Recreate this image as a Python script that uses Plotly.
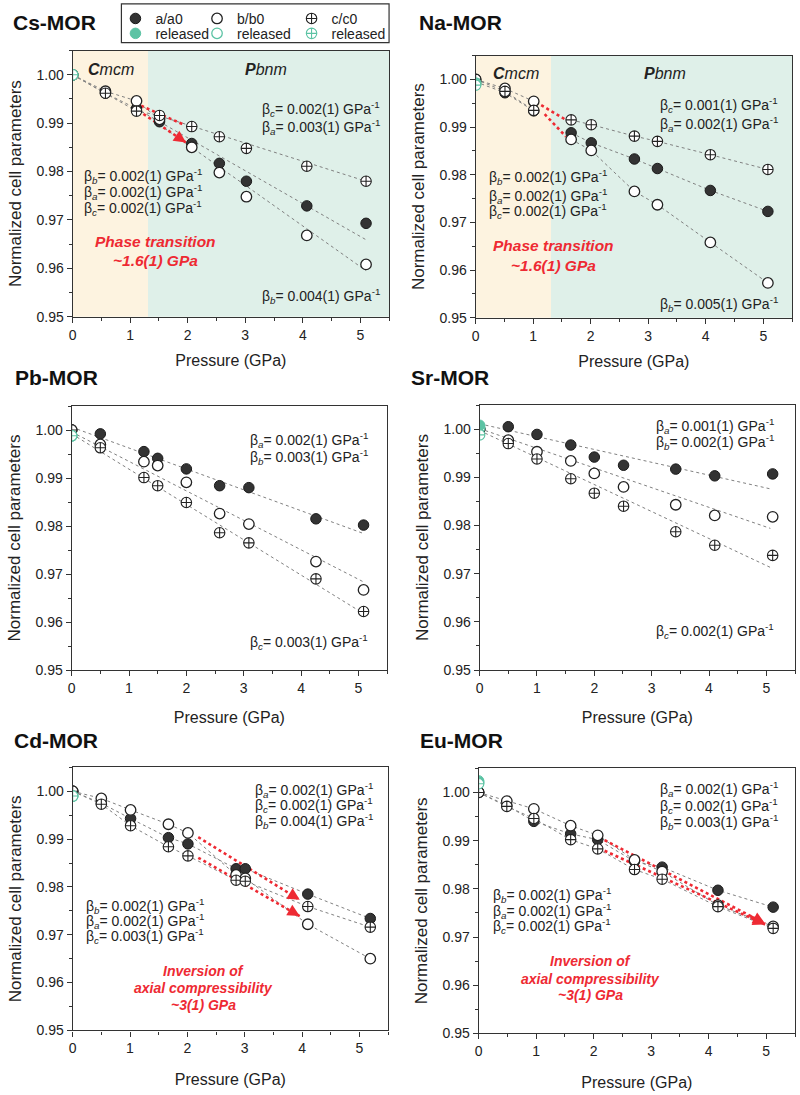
import plotly.graph_objects as go

W, H = 800, 1095

# ------------------------------------------------------------------ data
PANEL_NAMES = ["Cs-MOR", "Na-MOR", "Pb-MOR", "Sr-MOR", "Cd-MOR", "Eu-MOR"]

# Cs-MOR
CS_P = [0.0, 0.57, 1.11, 1.51, 2.07, 2.55, 3.02, 4.07, 5.10]
CS_A = [1.000, 0.9962, 0.9930, 0.9903, 0.9858, 0.9817, 0.9780, 0.9729, 0.9693]
CS_B = [1.000, 0.9966, 0.9946, 0.9908, 0.9850, 0.9798, 0.9748, 0.9668, 0.9608]
CS_C = [1.000, 0.9962, 0.9925, 0.9916, 0.9893, 0.9872, 0.9848, 0.9811, 0.9780]
CS_REL = [1.000, 1.000, 1.000]           # released a, b, c at 0 GPa
CS_FIT_P = [1.51, 5.10]                  # Pbnm linear fits
CS_FIT_A = [0.9903, 0.9659]
CS_FIT_B = [0.9897, 0.9595]
CS_FIT_C = [0.9915, 0.9780]

# Na-MOR
NA_P = [0.0, 0.51, 1.01, 1.66, 2.01, 2.76, 3.16, 4.08, 5.08]
NA_A = [0.9995, 0.9972, 0.9934, 0.9888, 0.9867, 0.9833, 0.9813, 0.9767, 0.9723]
NA_B = [1.000, 0.9981, 0.9954, 0.9874, 0.9851, 0.9765, 0.9737, 0.9658, 0.9573]
NA_C = [1.000, 0.9975, 0.9935, 0.9915, 0.9905, 0.9881, 0.9870, 0.9842, 0.9811]
NA_REL = [0.9990, 0.9992, 0.9988]

# Pb-MOR
PB_P = [0.0, 0.50, 1.26, 1.50, 2.00, 2.58, 3.09, 4.26, 5.09]
PB_A = [1.000, 0.9992, 0.9955, 0.9941, 0.9919, 0.9884, 0.9880, 0.9815, 0.9802]
PB_B = [1.000, 0.9970, 0.9934, 0.9926, 0.9891, 0.9826, 0.9804, 0.9726, 0.9667]
PB_C = [1.000, 0.9963, 0.9901, 0.9884, 0.9849, 0.9786, 0.9765, 0.9690, 0.9622]
PB_REL = [0.9988, 0.9988, 0.9988]
PB_FIT_P = [0.0, 5.10]
PB_FIT_A = [1.0006, 0.9784]
PB_FIT_B = [0.9996, 0.9683]
PB_FIT_C = [0.9992, 0.9617]

# Sr-MOR
SR_P = [0.0, 0.50, 1.00, 1.59, 2.00, 2.51, 3.42, 4.10, 5.11]
SR_A = [1.000, 1.0005, 0.9989, 0.9967, 0.9942, 0.9925, 0.9917, 0.9903, 0.9907]
SR_B = [1.000, 0.9977, 0.9953, 0.9934, 0.9908, 0.9880, 0.9843, 0.9821, 0.9818]
SR_C = [1.000, 0.9970, 0.9938, 0.9897, 0.9867, 0.9840, 0.9787, 0.9759, 0.9738]
SR_REL = [1.0008, 1.0003, 0.9988]
SR_FIT_P = [0.0, 5.07]
SR_FIT_A = [1.0011, 0.9876]
SR_FIT_B = [1.0001, 0.9794]
SR_FIT_C = [0.9997, 0.9713]

# Cd-MOR
CD_P = [0.0, 0.50, 1.01, 1.67, 2.01, 2.85, 3.01, 4.10, 5.19]
CD_A = [1.000, 0.9975, 0.9943, 0.9903, 0.9890, 0.9838, 0.9838, 0.9785, 0.9734]
CD_B = [1.000, 0.9985, 0.9961, 0.9931, 0.9913, 0.9825, 0.9818, 0.9722, 0.9650]
CD_C = [1.000, 0.9973, 0.9928, 0.9884, 0.9865, 0.9814, 0.9812, 0.9759, 0.9716]
CD_REL = [0.9990, 0.9990, 0.9990]

# Eu-MOR
EU_P = [0.0, 0.49, 0.96, 1.60, 2.07, 2.71, 3.19, 4.16, 5.12]
EU_A = [1.000, 0.9973, 0.9940, 0.9914, 0.9902, 0.9857, 0.9845, 0.9797, 0.9762]
EU_B = [1.000, 0.9982, 0.9966, 0.9931, 0.9911, 0.9860, 0.9836, 0.9766, 0.9722]
EU_C = [1.000, 0.9971, 0.9946, 0.9902, 0.9883, 0.9840, 0.9820, 0.9763, 0.9718]
EU_REL = [1.0024, 1.0021, 1.0018]

PHASE_BOUNDARY = 1.31   # Cmcm / Pbnm boundary (GPa)

# red dotted arrows: [x_start, x_end], [y_start, y_end]
CS_ARROWS = [([1.19, 1.95], [0.9936, 0.9896]), ([1.23, 1.97], [0.9919, 0.9860])]
NA_ARROWS = [([1.14, 1.57], [0.9946, 0.9915]), ([1.20, 1.57], [0.9927, 0.9880])]
CD_ARROWS = [([2.19, 3.96], [0.9904, 0.9773]), ([2.19, 3.96], [0.9861, 0.9739])]
EU_ARROWS = [([2.19, 4.98], [0.9901, 0.9728]), ([2.19, 4.98], [0.9879, 0.9726])]

X_TICKS = [0, 1, 2, 3, 4, 5]
Y_TICKS = [0.95, 0.96, 0.97, 0.98, 0.99, 1.00]

# ------------------------------------------------------------------ style
FONT = "Liberation Sans, Arial, sans-serif"
TEAL = "#5cc3a4"
LINE_GREY = "#808080"
RED = "#ee2a33"
CMCM_BG = "#fdf3e0"
PBNM_BG = "#dff0e9"

# panel boxes in pixels: left, right, top, bottom
BOXES = [(69, 387, 51, 319), (474, 792, 56, 320),
         (68, 385, 409, 675), (478, 795, 408, 675),
         (69, 386, 773, 1038), (477, 795, 774, 1041)]
X_TITLE_STANDOFF = [13, 13, 16, 16, 18, 18]

MK_A = dict(symbol="circle", size=10.5, color="#333333", line=dict(color="#1a1a1a", width=1))
MK_B = dict(symbol="circle", size=10.5, color="white", line=dict(color="#222222", width=1.3))
MK_C = dict(symbol="circle-cross", size=10.5, color="white", line=dict(color="#222222", width=1.1))
MK_RA = dict(symbol="circle", size=10.5, color=TEAL, line=dict(color=TEAL, width=1))
MK_RB = dict(symbol="circle", size=10.5, color="white", line=dict(color=TEAL, width=1.3))
MK_RC = dict(symbol="circle-cross", size=10.5, color="white", line=dict(color=TEAL, width=1.1))

fig = go.Figure()


def ax_ids(i):
    return ("x", "y") if i == 1 else (f"x{i}", f"y{i}")


def add_line(i, xs, ys):
    xr, yr = ax_ids(i)
    fig.add_trace(go.Scatter(x=xs, y=ys, mode="lines", xaxis=xr, yaxis=yr,
                             line=dict(color=LINE_GREY, width=1, dash="dot"),
                             showlegend=False, hoverinfo="skip"))


def add_arrows(i, arrows):
    xr, yr = ax_ids(i)
    for xs, ys in arrows:
        fig.add_trace(go.Scatter(x=xs, y=ys, mode="lines", xaxis=xr, yaxis=yr,
                                 line=dict(color=RED, width=2.6, dash="dot"),
                                 showlegend=False, hoverinfo="skip"))
        tx = xs[1] - 0.1 * (xs[1] - xs[0])
        ty = ys[1] - 0.1 * (ys[1] - ys[0])
        fig.add_annotation(x=xs[1], y=ys[1], ax=tx, ay=ty, xref=xr, yref=yr,
                           axref=xr, ayref=yr, text="", showarrow=True,
                           arrowhead=2, arrowsize=1.1, arrowwidth=2.2,
                           arrowcolor=RED, standoff=0)


def add_points(i, P, A, B, C, REL):
    xr, yr = ax_ids(i)
    first = i == 1
    specs = [(P, A, MK_A, "a/a0", "legend"), (P, B, MK_B, "b/b0", "legend2"),
             (P, C, MK_C, "c/c0", "legend3"),
             ([0.0], [REL[1]], MK_RB, "released", "legend5"),
             ([0.0], [REL[0]], MK_RA, "released", "legend4"),
             ([0.0], [REL[2]], MK_RC, "released", "legend6")]
    for xs, ys, mk, name, lg in specs:
        fig.add_trace(go.Scatter(x=xs, y=ys, mode="markers", xaxis=xr, yaxis=yr,
                                 marker=mk, name=name, showlegend=first,
                                 legend=lg))


# Cs
for ser in (CS_A, CS_B, CS_C):
    add_line(1, CS_P[:4], ser[:4])
for fit in (CS_FIT_A, CS_FIT_B, CS_FIT_C):
    add_line(1, CS_FIT_P, fit)
add_arrows(1, CS_ARROWS)
add_points(1, CS_P, CS_A, CS_B, CS_C, CS_REL)

# Na
for ser in (NA_A, NA_B, NA_C):
    add_line(2, NA_P[:3], ser[:3])
    add_line(2, NA_P[3:], ser[3:])
add_arrows(2, NA_ARROWS)
add_points(2, NA_P, NA_A, NA_B, NA_C, NA_REL)

# Pb
for fit in (PB_FIT_A, PB_FIT_B, PB_FIT_C):
    add_line(3, PB_FIT_P, fit)
add_points(3, PB_P, PB_A, PB_B, PB_C, PB_REL)

# Sr
for fit in (SR_FIT_A, SR_FIT_B, SR_FIT_C):
    add_line(4, SR_FIT_P, fit)
add_points(4, SR_P, SR_A, SR_B, SR_C, SR_REL)

# Cd
for ser in (CD_A, CD_B, CD_C):
    add_line(5, CD_P, ser)
add_arrows(5, CD_ARROWS)
add_points(5, CD_P, CD_A, CD_B, CD_C, CD_REL)

# Eu
for ser in (EU_A, EU_B, EU_C):
    add_line(6, EU_P, ser)
add_arrows(6, EU_ARROWS)
add_points(6, EU_P, EU_A, EU_B, EU_C, EU_REL)

# ------------------------------------------------------------------ axes
layout = dict(width=W, height=H, margin=dict(l=0, r=0, t=0, b=0),
              paper_bgcolor="white", plot_bgcolor="white",
              font=dict(family=FONT, color="#222222"))

for i, (l, r, t, b) in enumerate(BOXES, start=1):
    xk = "xaxis" if i == 1 else f"xaxis{i}"
    yk = "yaxis" if i == 1 else f"yaxis{i}"
    xr, yr = ax_ids(i)
    common = dict(showline=True, mirror=True, linecolor="#333333", linewidth=1.2,
                  ticks="outside", ticklen=5, tickwidth=1, tickcolor="#333333",
                  showgrid=False, zeroline=False,
                  tickfont=dict(size=14, family=FONT, color="#222222"))
    layout[xk] = dict(domain=[l / W, r / W], anchor=yr, range=[0, 5.5],
                      tickvals=X_TICKS, ticktext=[str(v) for v in X_TICKS],
                      minor=dict(ticks="outside", ticklen=3, dtick=0.5, tick0=0,
                                 tickcolor="#333333"),
                      title=dict(text="Pressure (GPa)", font=dict(size=16, family=FONT),
                                 standoff=X_TITLE_STANDOFF[i - 1]),
                      **common)
    layout[yk] = dict(domain=[1 - b / H, 1 - t / H], anchor=xr, range=[0.95, 1.005],
                      tickvals=Y_TICKS, ticktext=[f"{v:.2f}" for v in Y_TICKS],
                      minor=dict(ticks="outside", ticklen=3, dtick=0.005, tick0=0.95,
                                 tickcolor="#333333"),
                      title=dict(text="Normalized cell parameters",
                                 font=dict(size=17, family=FONT), standoff=10),
                      **common)

# legends: one entry each, laid out as a 3x2 grid
LEG_POS = [(112, 19), (194, 19), (289, 19), (112, 34), (194, 34), (289, 34)]
for k, (px, py) in enumerate(LEG_POS, start=1):
    key = "legend" if k == 1 else f"legend{k}"
    layout[key] = dict(x=px / W, y=1 - py / H, xanchor="left", yanchor="middle",
                       bgcolor="rgba(0,0,0,0)", borderwidth=0,
                       font=dict(size=14, family=FONT, color="#222222"),
                       orientation="h", itemwidth=30)

fig.update_layout(**layout)

# legend frame
fig.add_shape(type="rect", xref="paper", yref="paper", x0=118 / W, x1=387 / W,
              y0=1 - 43 / H, y1=1 - 4 / H, line=dict(color="#333333", width=1.2))

# phase backgrounds (Cs, Na)
for i in (1, 2):
    xr, yr = ax_ids(i)
    fig.add_shape(type="rect", xref=xr, yref=f"{yr} domain", x0=0, x1=PHASE_BOUNDARY,
                  y0=0, y1=1, fillcolor=CMCM_BG, line=dict(width=0), layer="below")
    fig.add_shape(type="rect", xref=xr, yref=f"{yr} domain", x0=PHASE_BOUNDARY, x1=5.5,
                  y0=0, y1=1, fillcolor=PBNM_BG, line=dict(width=0), layer="below")

# ------------------------------------------------------------------ text
TITLE_POS = [(7, 23), (415, 23), (9, 380), (407, 380), (8, 746), (416, 746)]
for name, (px, py) in zip(PANEL_NAMES, TITLE_POS):
    fig.add_annotation(text=f"<b>{name}</b>", xref="paper", yref="paper",
                       x=px / W, y=1 - py / H, xanchor="left", yanchor="middle",
                       showarrow=False, font=dict(size=21, family=FONT, color="#111111"))


def beta(sub, val):
    return f"β<sub><i>{sub}</i></sub>= {val} GPa<sup>-1</sup>"


def txt(i, x, y, text, anchor="left", size=14, color="#222222"):
    xr, yr = ax_ids(i)
    fig.add_annotation(text=text, x=x, y=y, xref=xr, yref=yr, xanchor=anchor,
                       yanchor="middle", showarrow=False,
                       font=dict(size=size, family=FONT, color=color))


# Cs
txt(1, 0.67, 1.0010, "<b><i>C</i></b><i>mcm</i>", "center", 16)
txt(1, 3.36, 1.0010, "<b><i>P</i></b><i>bnm</i>", "center", 16)
txt(1, 5.38, 0.9930, beta("c", "0.002(1)"), "right")
txt(1, 5.38, 0.9893, beta("a", "0.003(1)"), "right")
txt(1, 0.16, 0.9791, beta("b", "0.002(1)"))
txt(1, 0.16, 0.9758, beta("a", "0.002(1)"))
txt(1, 0.16, 0.9725, beta("c", "0.002(1)"))
txt(1, 1.44, 0.9656, "<b><i>Phase transition</i></b>", "center", 15.5, RED)
txt(1, 1.44, 0.9617, "<b><i>~1.6(1) GPa</i></b>", "center", 15.5, RED)
txt(1, 5.38, 0.9543, beta("b", "0.004(1)"), "right")

# Na
txt(2, 0.71, 1.0012, "<b><i>C</i></b><i>mcm</i>", "center", 16)
txt(2, 3.29, 1.0012, "<b><i>P</i></b><i>bnm</i>", "center", 16)
txt(2, 5.29, 0.9946, beta("c", "0.001(1)"), "right")
txt(2, 5.29, 0.9906, beta("a", "0.002(1)"), "right")
txt(2, 0.19, 0.9796, beta("b", "0.002(1)"))
txt(2, 0.19, 0.9756, beta("a", "0.002(1)"))
txt(2, 0.19, 0.9723, beta("c", "0.002(1)"))
txt(2, 1.35, 0.9652, "<b><i>Phase transition</i></b>", "center", 15.5, RED)
txt(2, 1.35, 0.9610, "<b><i>~1.6(1) GPa</i></b>", "center", 15.5, RED)
txt(2, 5.29, 0.9529, beta("b", "0.005(1)"), "right")

# Pb
txt(3, 5.21, 0.9979, beta("a", "0.002(1)"), "right")
txt(3, 5.21, 0.9944, beta("b", "0.003(1)"), "right")
txt(3, 5.21, 0.9558, beta("c", "0.003(1)"), "right")

# Sr
txt(4, 5.17, 1.0006, beta("a", "0.001(1)"), "right")
txt(4, 5.17, 0.9973, beta("b", "0.002(1)"), "right")
txt(4, 5.17, 0.9582, beta("c", "0.002(1)"), "right")

# Cd
txt(5, 5.28, 1.0002, beta("a", "0.002(1)"), "right")
txt(5, 5.28, 0.9971, beta("c", "0.002(1)"), "right")
txt(5, 5.28, 0.9938, beta("b", "0.004(1)"), "right")
txt(5, 0.19, 0.9761, beta("b", "0.002(1)"))
txt(5, 0.19, 0.9728, beta("a", "0.002(1)"))
txt(5, 0.19, 0.9697, beta("c", "0.003(1)"))
txt(5, 2.29, 0.9625, "<b><i>Inversion of</i></b>", "center", 14, RED)
txt(5, 2.29, 0.9589, "<b><i>axial compressibility</i></b>", "center", 14, RED)
txt(5, 2.29, 0.9554, "<b><i>~3(1) GPa</i></b>", "center", 14, RED)

# Eu
txt(6, 5.24, 1.0008, beta("a", "0.002(1)"), "right")
txt(6, 5.24, 0.9971, beta("c", "0.002(1)"), "right")
txt(6, 5.24, 0.9938, beta("b", "0.003(1)"), "right")
txt(6, 0.21, 0.9788, beta("b", "0.002(1)"))
txt(6, 0.21, 0.9755, beta("a", "0.002(1)"))
txt(6, 0.21, 0.9722, beta("c", "0.002(1)"))
txt(6, 1.94, 0.9650, "<b><i>Inversion of</i></b>", "center", 14, RED)
txt(6, 1.94, 0.9613, "<b><i>axial compressibility</i></b>", "center", 14, RED)
txt(6, 1.94, 0.9580, "<b><i>~3(1) GPa</i></b>", "center", 14, RED)

fig.write_html("out.html")
